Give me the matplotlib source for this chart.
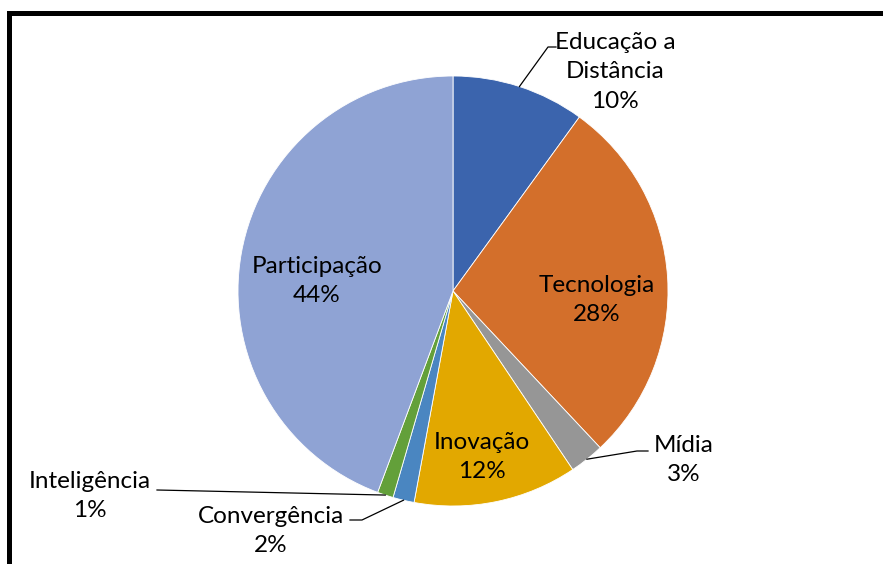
import numpy as np
import matplotlib
matplotlib.use('Agg')
import matplotlib.pyplot as plt
from matplotlib.patches import Rectangle

# slice data, clockwise from 12 o'clock
labels = ['Educação a\nDistância', 'Tecnologia', 'Mídia', 'Inovação',
          'Convergência', 'Inteligência', 'Participação']
values = [10.0, 28.0, 2.6, 12.3, 1.6, 1.2, 44.3]
colors = ['#3B64AD', '#D36F2B', '#969696', '#E2A800',
          '#4A86C1', '#63A03A', '#8FA3D4']

plt.rcParams['font.family'] = ['Lato', 'DejaVu Sans']

W, H = 883, 564
fig = plt.figure(figsize=(W/100, H/100), dpi=100)
ax = fig.add_axes([0, 0, 1, 1])
ax.set_aspect('equal')

cx, cy, r = 453, H-291, 215
wedges, _ = ax.pie(values, colors=colors, startangle=90, counterclock=False,
                   center=(cx, cy), radius=r, frame=True,
                   wedgeprops=dict(edgecolor='white', linewidth=0.6))
ax.set_xlim(0, W)
ax.set_ylim(0, H)
ax.axis('off')

fs = 17.5
ls = 1.5
# inside labels: (index, x, y)
inside = [(1, 597, 300), (6, 317, 281), (3, 482, 457)]
for i, x, y in inside:
    ax.text(x, H-y, '%s\n%.0f%%' % (labels[i], values[i]), ha='center', va='center',
            fontsize=fs, linespacing=ls)

# outside labels with leader lines: (index, text x, text y, elbow x, elbow y, line end x)
outside = [(0, 615, 72, 548, 47, 556),
           (2, 684, 460, 637, 451, 648),
           (5, 90, 496, 157, 490, 157),
           (4, 271, 531, 362, 520, 350)]
for i, x, y, ex, ey, lx in outside:
    ax.text(x, H-y, '%s\n%.0f%%' % (labels[i], values[i]), ha='center', va='center',
            fontsize=fs, linespacing=ls)
    w = wedges[i]
    mid = np.deg2rad((w.theta1 + w.theta2) / 2)
    px, py = cx + r*np.cos(mid), cy + r*np.sin(mid)
    ax.plot([px, ex, lx], [py, H-ey, H-ey], color='black', lw=0.9)

# outer frame
fig.patches.append(Rectangle((8.5/W, -0.1), 1.2, 1 - 13/H + 0.1, transform=fig.transFigure,
                             fill=False, edgecolor='black', linewidth=3.6))

fig.savefig('out.png', dpi=100)
